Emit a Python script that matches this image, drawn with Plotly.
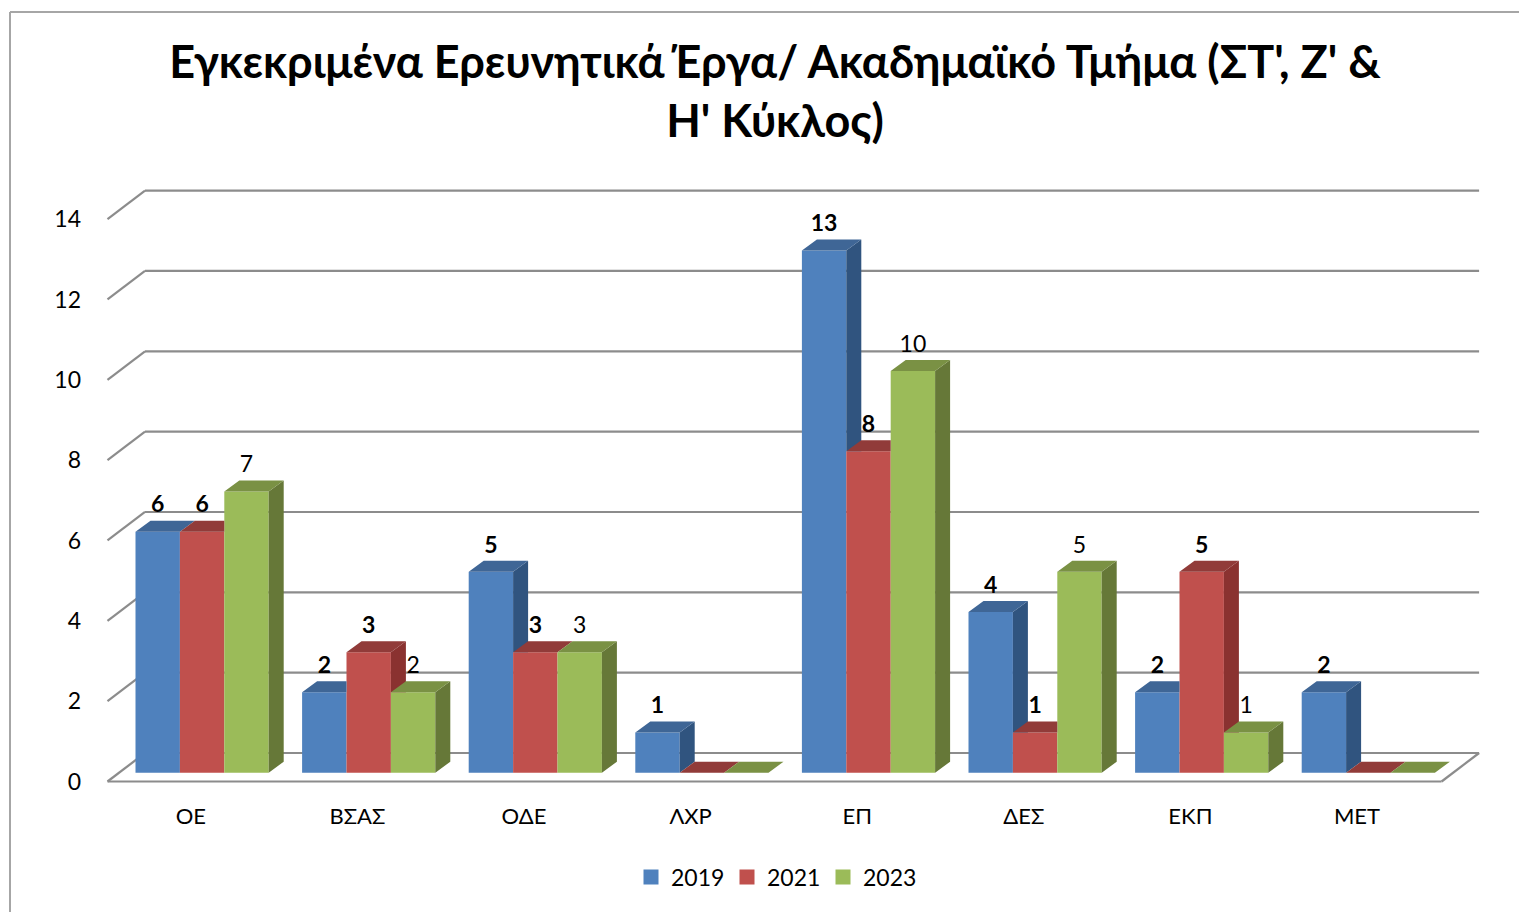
import plotly.graph_objects as go

categories = ["ΟΕ", "ΒΣΑΣ", "ΟΔΕ", "ΛΧΡ", "ΕΠ", "ΔΕΣ", "ΕΚΠ", "ΜΕΤ"]
years = ["2019", "2021", "2023"]
values_2019 = [6, 2, 5, 1, 13, 4, 2, 2]
values_2021 = [6, 3, 3, 0, 8, 1, 5, 0]
values_2023 = [7, 2, 3, 0, 10, 5, 1, 0]
y_ticks = [0, 2, 4, 6, 8, 10, 12, 14]
title_text = "Εγκεκριμένα Ερευνητικά Έργα/ Ακαδημαϊκό Τμήμα (ΣΤ', Ζ' &<br>Η' Κύκλος)"

front_colors = ["#4F81BD", "#C0504D", "#9BBB59"]
top_colors = ["#3F6696", "#913B39", "#7A9144"]
side_colors = ["#30547F", "#8A3230", "#667838"]

W, H = 1519, 912
FONT = "Lato, 'Open Sans', 'Noto Sans', sans-serif"
PX_X, PX_Y = 166.6, 40.17      # pixels per category / per value
X0, Y0 = 107.5, 781.5          # pixel of the front floor corner
WALL_DX, WALL_DY = 37.5 / PX_X, 28.5 / PX_Y
BAR_DX, BAR_DY = 15 / PX_X, 11 / PX_Y
BAR_W = 44.4 / PX_X
BAR_X0 = 28 / PX_X
BASE = 8.8 / PX_Y
LABEL_UP = 25 / PX_Y
n_cat = len(categories)
floor_end = n_cat + 1.3 / PX_X
series = [values_2019, values_2021, values_2023]

fig = go.Figure()

# walls and floor, behind everything
grid = dict(color="#8C8C8C", width=2.2)
shapes = []
for v in y_ticks:
    shapes.append(dict(type="line", layer="below", line=grid, x0=0, y0=v, x1=WALL_DX, y1=v + WALL_DY))
    shapes.append(dict(type="line", layer="below", line=grid, x0=WALL_DX, y0=v + WALL_DY,
                       x1=floor_end + WALL_DX, y1=v + WALL_DY))
shapes.append(dict(type="line", layer="below", line=grid, x0=0, y0=0, x1=floor_end, y1=0))
shapes.append(dict(type="line", layer="below", line=grid, x0=floor_end, y0=0, x1=floor_end + WALL_DX, y1=WALL_DY))
# outer chart frame
frame = dict(color="#A6A6A6", width=2)
shapes.append(dict(type="line", xref="paper", yref="paper", line=frame, x0=10 / W, x1=1, y0=1 - 12 / H, y1=1 - 12 / H))
shapes.append(dict(type="line", xref="paper", yref="paper", line=frame, x0=10 / W, x1=10 / W, y0=0, y1=1 - 12 / H))

# front faces
for s, vals in enumerate(series):
    xs = [i + BAR_X0 + (s + 0.5) * BAR_W for i in range(n_cat)]
    fig.add_trace(go.Bar(x=xs, y=vals, base=BASE, width=BAR_W, name=years[s],
                         marker=dict(color=front_colors[s], line=dict(width=0)),
                         showlegend=False))

# side and top faces, series by series
for s, vals in enumerate(series):
    side_x, side_y, top_x, top_y = [], [], [], []
    for i, v in enumerate(vals):
        h = v + BASE
        xl = i + BAR_X0 + s * BAR_W
        xr = xl + BAR_W
        nxt = series[s + 1][i] if s < 2 else None
        if nxt is None or nxt < v:
            low = BASE if nxt is None else nxt + BASE
            if nxt is None or nxt == 0:
                side_x += [xr, xr + BAR_DX, xr + BAR_DX, xr, None]
                side_y += [h, h + BAR_DY, BASE + BAR_DY, BASE, None]
            else:
                side_x += [xr, xr + BAR_DX, xr + BAR_DX, xr, None]
                side_y += [h, h + BAR_DY, low, low, None]
        if nxt is not None and nxt > v:
            top_x += [xl, xr, xr, xl + BAR_DX, None]
            top_y += [h, h, h + BAR_DY, h + BAR_DY, None]
        else:
            top_x += [xl, xr, xr + BAR_DX, xl + BAR_DX, None]
            top_y += [h, h, h + BAR_DY, h + BAR_DY, None]
    if side_x:
        fig.add_trace(go.Scatter(x=side_x, y=side_y, mode="lines", fill="toself", fillcolor=side_colors[s],
                                 line=dict(width=0), showlegend=False, hoverinfo="skip"))
    fig.add_trace(go.Scatter(x=top_x, y=top_y, mode="lines", fill="toself", fillcolor=top_colors[s],
                             line=dict(width=0), showlegend=False, hoverinfo="skip"))

# data labels (2023 is regular weight, the others bold)
for s, vals in enumerate(series):
    xs, ys, txt = [], [], []
    for i, v in enumerate(vals):
        if v == 0:
            continue
        xs.append(i + BAR_X0 + (s + 0.5) * BAR_W)
        ys.append(v + BASE + LABEL_UP)
        txt.append(str(v) if s == 2 else f"<b>{v}</b>")
    fig.add_trace(go.Scatter(x=xs, y=ys, text=txt, mode="text", textposition="middle center",
                             textfont=dict(family=FONT, size=23, color="#000000"),
                             showlegend=False, hoverinfo="skip"))

# legend entries
for s, name in enumerate(years):
    fig.add_trace(go.Scatter(x=[None], y=[None], mode="markers", name=name,
                             marker=dict(symbol="square", size=15, color=front_colors[s])))

fig.update_layout(
    width=W, height=H, autosize=False,
    margin=dict(l=0, r=0, t=0, b=0),
    paper_bgcolor="white", plot_bgcolor="white",
    font=dict(family=FONT, size=23, color="#000000"),
    title=dict(text=title_text, x=775 / W, xanchor="center", y=1 - 78 / H, yanchor="top",
               font=dict(family=FONT, size=45, color="#000000", weight="bold")),
    shapes=shapes,
    xaxis=dict(range=[-X0 / PX_X, (W - X0) / PX_X], domain=[0, 1], showgrid=False, zeroline=False, showline=False,
               tickmode="array", tickvals=[i + 0.5 for i in range(n_cat)], ticktext=categories,
               anchor="free", position=1 - 801 / H, ticks="", tickfont=dict(family=FONT, size=22)),
    yaxis=dict(range=[(Y0 - H) / PX_Y, Y0 / PX_Y], domain=[0, 1], showgrid=False, zeroline=False, showline=False,
               tickmode="array", tickvals=y_ticks, ticktext=[str(v) for v in y_ticks],
               anchor="free", position=81 / W, ticks="", tickfont=dict(family=FONT, size=23)),
    barmode="overlay",
    legend=dict(orientation="h", x=631 / W, xanchor="left", y=1 - 877 / H, yanchor="middle",
                font=dict(family=FONT, size=23), entrywidth=51, entrywidthmode="pixels",
                bgcolor="rgba(0,0,0,0)", itemclick=False, itemdoubleclick=False),
    hovermode=False,
)

fig.write_html("out.html", config=dict(displayModeBar=False),
               post_script="document.body.style.margin='0';document.body.style.overflow='hidden';")
